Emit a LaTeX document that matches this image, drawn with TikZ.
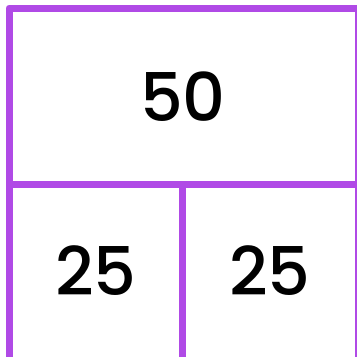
\documentclass[tikz,border=0pt]{standalone}
\usepackage{fontspec}
\setmainfont{Poppins}
\newfontfamily\numfont{Poppins Medium}
\definecolor{gridpurple}{HTML}{B04AE6}
\begin{document}
\begin{tikzpicture}[x=1pt,y=-1pt,
  gridline/.style={draw=gridpurple,line width=7pt,line join=round},
  num/.style={font=\numfont\fontsize{67}{67}\selectfont,inner sep=0pt}]
\useasboundingbox (0,0) rectangle (357,357);
\coordinate (tl) at (9,8);
\coordinate (br) at (358,360);
\coordinate (ml) at (9,184);
\coordinate (mr) at (358,184);
\coordinate (mt) at (182.5,184);
\coordinate (mb) at (182.5,360);
\draw[gridline] (tl) rectangle (br);
\draw[gridline] (ml) -- (mr);
\draw[gridline] (mt) -- (mb);
\node[num] (a) at (183,96.5) {50};
\node[num] (b) at (96,270.5) {25};
\node[num] (c) at (270,270.5) {25};
\end{tikzpicture}
\end{document}
